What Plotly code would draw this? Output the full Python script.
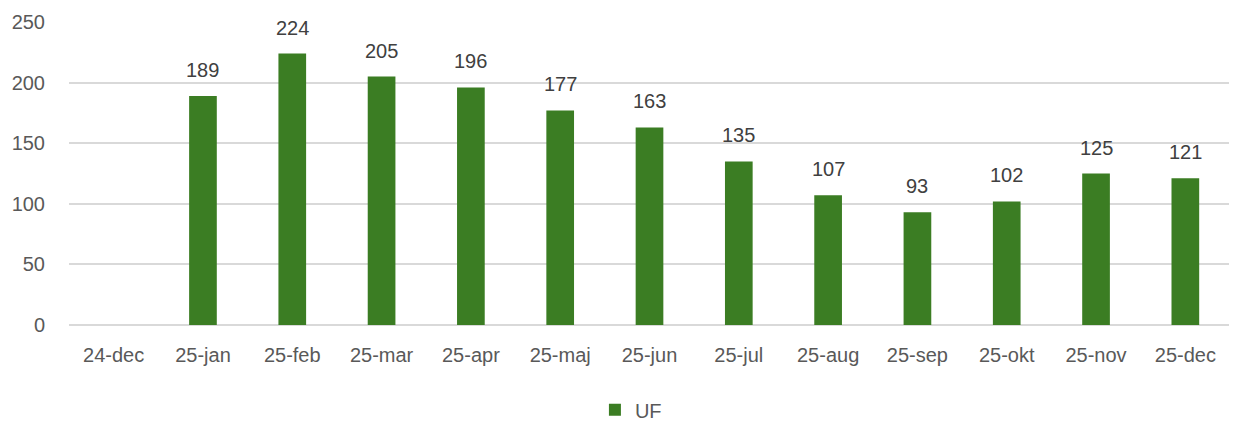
import plotly.graph_objects as go

categories = ["24-dec", "25-jan", "25-feb", "25-mar", "25-apr", "25-maj", "25-jun",
              "25-jul", "25-aug", "25-sep", "25-okt", "25-nov", "25-dec"]
uf_values = [None, 189, 224, 205, 196, 177, 163, 135, 107, 93, 102, 125, 121]
y_ticks = [0, 50, 100, 150, 200, 250]

GREEN = "#3B7D23"
FONT = "Liberation Sans"
FS = 20

fig = go.Figure()
fig.add_trace(go.Bar(
    x=categories, y=uf_values, name="UF",
    marker=dict(color=GREEN, line=dict(width=0)),
))

for c, v in zip(categories, uf_values):
    if v is None:
        continue
    fig.add_annotation(x=c, y=v, text=str(v), showarrow=False,
                       yanchor="bottom", yshift=13,
                       font=dict(family=FONT, size=FS, color="#404040"))

# page body has an 8px margin, so the figure is offset by 8px
fig.update_layout(
    width=1229, height=413,
    margin=dict(l=61, r=7, t=14, b=96, autoexpand=False),
    paper_bgcolor="white", plot_bgcolor="white",
    bargap=0.69,
    showlegend=True,
    legend=dict(orientation="h", x=0.484, xanchor="center", y=-0.28, yanchor="middle",
                font=dict(family=FONT, size=FS, color="#595959"),
                itemwidth=30),
    font=dict(family=FONT, size=FS, color="#595959"),
)
fig.update_xaxes(showgrid=False, showline=False, ticks="", ticklabelstandoff=16,
                 automargin=False,
                 tickfont=dict(family=FONT, size=FS, color="#595959"))
fig.update_yaxes(range=[0, 250], tickvals=y_ticks, showgrid=True, gridcolor="#D9D9D9",
                 gridwidth=2, zeroline=True, zerolinecolor="#D9D9D9", zerolinewidth=2,
                 ticks="", ticklabelstandoff=23, automargin=False,
                 tickfont=dict(family=FONT, size=FS, color="#595959"))

fig.write_html("out.html")
